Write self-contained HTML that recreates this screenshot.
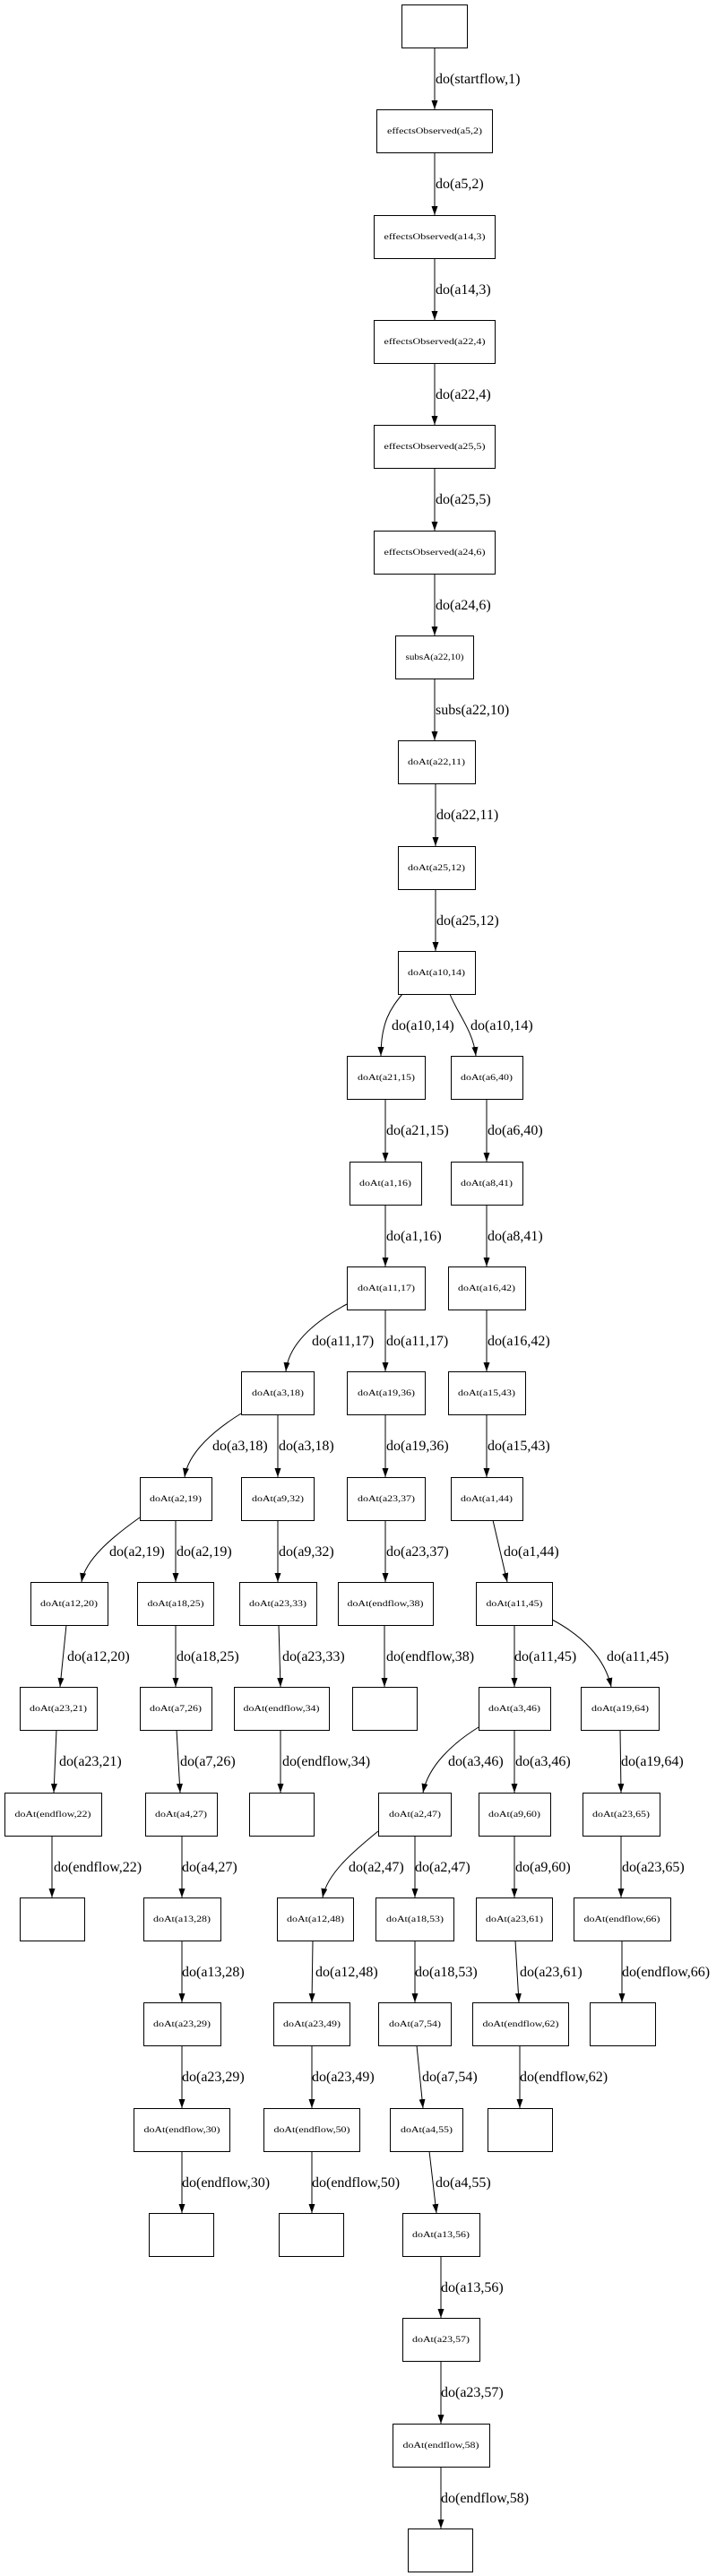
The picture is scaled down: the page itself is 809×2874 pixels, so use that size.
<!DOCTYPE html>
<html><head><meta charset="utf-8"><style>
html,body{margin:0;padding:0;background:#fff;}
svg{display:block;}
.n rect{fill:#fff;stroke:#000;stroke-width:1;}
.n text{font-family:"Liberation Serif",serif;font-size:9px;text-anchor:middle;}
.e path{fill:none;stroke:#000;stroke-width:1;}
.l text{font-family:"Liberation Serif",serif;font-size:16px;}
</style></head><body>
<svg width="809" height="2874" viewBox="0 0 809 2874" xmlns="http://www.w3.org/2000/svg">
<defs><marker id="a" markerUnits="userSpaceOnUse" markerWidth="11" markerHeight="8" refX="10" refY="3.5" orient="auto"><path d="M0,0 L10,3.5 L0,7 z" fill="#000"/></marker></defs>
<g class="e">
<path marker-end="url(#a)" d="M485,53 L485,122"/>
<path marker-end="url(#a)" d="M485,170 L485,240"/>
<path marker-end="url(#a)" d="M485,288 L485,357"/>
<path marker-end="url(#a)" d="M485,405 L485,474"/>
<path marker-end="url(#a)" d="M485,522 L485,592"/>
<path marker-end="url(#a)" d="M485,640 L485,709"/>
<path marker-end="url(#a)" d="M485,757 L485,826"/>
<path marker-end="url(#a)" d="M486,874 L486,944"/>
<path marker-end="url(#a)" d="M486,992 L486,1061"/>
<path marker-end="url(#a)" d="M449,1109 C436,1125 425,1140 425,1178"/>
<path marker-end="url(#a)" d="M502,1109 C510,1130 528,1150 531,1178"/>
<path marker-end="url(#a)" d="M430,1226 L430,1296"/>
<path marker-end="url(#a)" d="M543,1226 L543,1296"/>
<path marker-end="url(#a)" d="M430,1344 L430,1413"/>
<path marker-end="url(#a)" d="M543,1344 L543,1413"/>
<path marker-end="url(#a)" d="M387,1455 C350,1475 322,1500 319,1530"/>
<path marker-end="url(#a)" d="M430,1461 L430,1530"/>
<path marker-end="url(#a)" d="M543,1461 L543,1530"/>
<path marker-end="url(#a)" d="M269,1577 C240,1595 210,1620 206,1648"/>
<path marker-end="url(#a)" d="M310,1578 L310,1648"/>
<path marker-end="url(#a)" d="M430,1578 L430,1648"/>
<path marker-end="url(#a)" d="M543,1578 L543,1648"/>
<path marker-end="url(#a)" d="M156,1693 C125,1715 95,1740 91,1765"/>
<path marker-end="url(#a)" d="M196,1696 L196,1765"/>
<path marker-end="url(#a)" d="M310,1696 L310,1765"/>
<path marker-end="url(#a)" d="M430,1696 L430,1765"/>
<path marker-end="url(#a)" d="M550,1696 L566,1765"/>
<path marker-end="url(#a)" d="M74,1813 L67,1882"/>
<path marker-end="url(#a)" d="M196,1813 L196,1882"/>
<path marker-end="url(#a)" d="M311,1813 L313,1882"/>
<path marker-end="url(#a)" d="M429,1813 L429,1882"/>
<path marker-end="url(#a)" d="M574,1813 L574,1882"/>
<path marker-end="url(#a)" d="M616,1807 C650,1825 675,1850 682,1882"/>
<path marker-end="url(#a)" d="M63,1930 L60,2000"/>
<path marker-end="url(#a)" d="M197,1930 L201,2000"/>
<path marker-end="url(#a)" d="M313,1930 L313,2000"/>
<path marker-end="url(#a)" d="M534,1927 C505,1945 478,1970 472,2000"/>
<path marker-end="url(#a)" d="M574,1930 L574,2000"/>
<path marker-end="url(#a)" d="M692,1930 L693,2000"/>
<path marker-end="url(#a)" d="M58,2048 L58,2117"/>
<path marker-end="url(#a)" d="M203,2048 L203,2117"/>
<path marker-end="url(#a)" d="M422,2043 C395,2065 365,2090 360,2117"/>
<path marker-end="url(#a)" d="M463,2048 L463,2117"/>
<path marker-end="url(#a)" d="M574,2048 L574,2117"/>
<path marker-end="url(#a)" d="M693,2048 L693,2117"/>
<path marker-end="url(#a)" d="M203,2165 L203,2234"/>
<path marker-end="url(#a)" d="M349,2165 L348,2234"/>
<path marker-end="url(#a)" d="M463,2165 L463,2234"/>
<path marker-end="url(#a)" d="M575,2165 L579,2234"/>
<path marker-end="url(#a)" d="M694,2165 L694,2234"/>
<path marker-end="url(#a)" d="M203,2282 L203,2352"/>
<path marker-end="url(#a)" d="M348,2282 L348,2352"/>
<path marker-end="url(#a)" d="M465,2282 L472,2352"/>
<path marker-end="url(#a)" d="M580,2282 L580,2352"/>
<path marker-end="url(#a)" d="M203,2400 L203,2469"/>
<path marker-end="url(#a)" d="M348,2400 L348,2469"/>
<path marker-end="url(#a)" d="M479,2400 L487,2469"/>
<path marker-end="url(#a)" d="M492,2517 L492,2586"/>
<path marker-end="url(#a)" d="M492,2634 L492,2704"/>
<path marker-end="url(#a)" d="M492,2752 L492,2821"/>
</g>
<g class="l">
<text x="486" y="93">do(startflow,1)</text>
<text x="486" y="210">do(a5,2)</text>
<text x="486" y="328">do(a14,3)</text>
<text x="486" y="445">do(a22,4)</text>
<text x="486" y="562">do(a25,5)</text>
<text x="486" y="680">do(a24,6)</text>
<text x="486" y="797">subs(a22,10)</text>
<text x="487" y="914">do(a22,11)</text>
<text x="487" y="1032">do(a25,12)</text>
<text x="437" y="1149">do(a10,14)</text>
<text x="525" y="1149">do(a10,14)</text>
<text x="431" y="1266">do(a21,15)</text>
<text x="544" y="1266">do(a6,40)</text>
<text x="431" y="1384">do(a1,16)</text>
<text x="544" y="1384">do(a8,41)</text>
<text x="348" y="1501">do(a11,17)</text>
<text x="431" y="1501">do(a11,17)</text>
<text x="544" y="1501">do(a16,42)</text>
<text x="237" y="1618">do(a3,18)</text>
<text x="311" y="1618">do(a3,18)</text>
<text x="431" y="1618">do(a19,36)</text>
<text x="544" y="1618">do(a15,43)</text>
<text x="122" y="1736">do(a2,19)</text>
<text x="197" y="1736">do(a2,19)</text>
<text x="311" y="1736">do(a9,32)</text>
<text x="431" y="1736">do(a23,37)</text>
<text x="562" y="1736">do(a1,44)</text>
<text x="75" y="1853">do(a12,20)</text>
<text x="197" y="1853">do(a18,25)</text>
<text x="315" y="1853">do(a23,33)</text>
<text x="431" y="1853">do(endflow,38)</text>
<text x="574" y="1853">do(a11,45)</text>
<text x="677" y="1853">do(a11,45)</text>
<text x="66" y="1970">do(a23,21)</text>
<text x="201" y="1970">do(a7,26)</text>
<text x="315" y="1970">do(endflow,34)</text>
<text x="500" y="1970">do(a3,46)</text>
<text x="575" y="1970">do(a3,46)</text>
<text x="693" y="1970">do(a19,64)</text>
<text x="60" y="2088">do(endflow,22)</text>
<text x="203" y="2088">do(a4,27)</text>
<text x="389" y="2088">do(a2,47)</text>
<text x="463" y="2088">do(a2,47)</text>
<text x="575" y="2088">do(a9,60)</text>
<text x="694" y="2088">do(a23,65)</text>
<text x="203" y="2205">do(a13,28)</text>
<text x="352" y="2205">do(a12,48)</text>
<text x="463" y="2205">do(a18,53)</text>
<text x="580" y="2205">do(a23,61)</text>
<text x="694" y="2205">do(endflow,66)</text>
<text x="203" y="2322">do(a23,29)</text>
<text x="348" y="2322">do(a23,49)</text>
<text x="471" y="2322">do(a7,54)</text>
<text x="580" y="2322">do(endflow,62)</text>
<text x="203" y="2440">do(endflow,30)</text>
<text x="348" y="2440">do(endflow,50)</text>
<text x="486" y="2440">do(a4,55)</text>
<text x="492" y="2557">do(a13,56)</text>
<text x="492" y="2674">do(a23,57)</text>
<text x="492" y="2792">do(endflow,58)</text>
</g>
<g class="n">
<rect x="448.5" y="5.5" width="73" height="48"/>
<rect x="420.5" y="122.5" width="129" height="48"/><text x="485" y="149" textLength="106" lengthAdjust="spacingAndGlyphs">effectsObserved(a5,2)</text>
<rect x="417.5" y="240.5" width="135" height="48"/><text x="485" y="267" textLength="113" lengthAdjust="spacingAndGlyphs">effectsObserved(a14,3)</text>
<rect x="417.5" y="357.5" width="135" height="48"/><text x="485" y="384" textLength="113" lengthAdjust="spacingAndGlyphs">effectsObserved(a22,4)</text>
<rect x="417.5" y="474.5" width="135" height="48"/><text x="485" y="501" textLength="113" lengthAdjust="spacingAndGlyphs">effectsObserved(a25,5)</text>
<rect x="417.5" y="592.5" width="135" height="48"/><text x="485" y="619" textLength="113" lengthAdjust="spacingAndGlyphs">effectsObserved(a24,6)</text>
<rect x="441.5" y="709.5" width="87" height="48"/><text x="485" y="736" textLength="65" lengthAdjust="spacingAndGlyphs">subsA(a22,10)</text>
<rect x="444.5" y="826.5" width="86" height="48"/><text x="487" y="853" textLength="64" lengthAdjust="spacingAndGlyphs">doAt(a22,11)</text>
<rect x="444.5" y="944.5" width="86" height="48"/><text x="487" y="971" textLength="64" lengthAdjust="spacingAndGlyphs">doAt(a25,12)</text>
<rect x="444.5" y="1061.5" width="86" height="48"/><text x="487" y="1088" textLength="64" lengthAdjust="spacingAndGlyphs">doAt(a10,14)</text>
<rect x="387.5" y="1178.5" width="87" height="48"/><text x="431" y="1205" textLength="64" lengthAdjust="spacingAndGlyphs">doAt(a21,15)</text>
<rect x="503.5" y="1178.5" width="80" height="48"/><text x="543" y="1205" textLength="58" lengthAdjust="spacingAndGlyphs">doAt(a6,40)</text>
<rect x="390.5" y="1296.5" width="80" height="48"/><text x="430" y="1323" textLength="58" lengthAdjust="spacingAndGlyphs">doAt(a1,16)</text>
<rect x="503.5" y="1296.5" width="80" height="48"/><text x="543" y="1323" textLength="58" lengthAdjust="spacingAndGlyphs">doAt(a8,41)</text>
<rect x="387.5" y="1413.5" width="87" height="48"/><text x="431" y="1440" textLength="64" lengthAdjust="spacingAndGlyphs">doAt(a11,17)</text>
<rect x="500.5" y="1413.5" width="86" height="48"/><text x="543" y="1440" textLength="64" lengthAdjust="spacingAndGlyphs">doAt(a16,42)</text>
<rect x="269.5" y="1530.5" width="81" height="48"/><text x="310" y="1557" textLength="58" lengthAdjust="spacingAndGlyphs">doAt(a3,18)</text>
<rect x="387.5" y="1530.5" width="87" height="48"/><text x="431" y="1557" textLength="64" lengthAdjust="spacingAndGlyphs">doAt(a19,36)</text>
<rect x="500.5" y="1530.5" width="86" height="48"/><text x="543" y="1557" textLength="64" lengthAdjust="spacingAndGlyphs">doAt(a15,43)</text>
<rect x="156.5" y="1648.5" width="80" height="48"/><text x="196" y="1675" textLength="58" lengthAdjust="spacingAndGlyphs">doAt(a2,19)</text>
<rect x="269.5" y="1648.5" width="81" height="48"/><text x="310" y="1675" textLength="58" lengthAdjust="spacingAndGlyphs">doAt(a9,32)</text>
<rect x="387.5" y="1648.5" width="87" height="48"/><text x="431" y="1675" textLength="64" lengthAdjust="spacingAndGlyphs">doAt(a23,37)</text>
<rect x="503.5" y="1648.5" width="80" height="48"/><text x="543" y="1675" textLength="58" lengthAdjust="spacingAndGlyphs">doAt(a1,44)</text>
<rect x="34.5" y="1765.5" width="86" height="48"/><text x="77" y="1792" textLength="64" lengthAdjust="spacingAndGlyphs">doAt(a12,20)</text>
<rect x="153.5" y="1765.5" width="85" height="48"/><text x="196" y="1792" textLength="63" lengthAdjust="spacingAndGlyphs">doAt(a18,25)</text>
<rect x="267.5" y="1765.5" width="86" height="48"/><text x="310" y="1792" textLength="64" lengthAdjust="spacingAndGlyphs">doAt(a23,33)</text>
<rect x="377.5" y="1765.5" width="106" height="48"/><text x="430" y="1792" textLength="85" lengthAdjust="spacingAndGlyphs">doAt(endflow,38)</text>
<rect x="531.5" y="1765.5" width="85" height="48"/><text x="574" y="1792" textLength="63" lengthAdjust="spacingAndGlyphs">doAt(a11,45)</text>
<rect x="22.5" y="1882.5" width="86" height="48"/><text x="65" y="1909" textLength="64" lengthAdjust="spacingAndGlyphs">doAt(a23,21)</text>
<rect x="156.5" y="1882.5" width="80" height="48"/><text x="196" y="1909" textLength="58" lengthAdjust="spacingAndGlyphs">doAt(a7,26)</text>
<rect x="261.5" y="1882.5" width="106" height="48"/><text x="314" y="1909" textLength="85" lengthAdjust="spacingAndGlyphs">doAt(endflow,34)</text>
<rect x="393.5" y="1882.5" width="72" height="48"/>
<rect x="534.5" y="1882.5" width="80" height="48"/><text x="574" y="1909" textLength="58" lengthAdjust="spacingAndGlyphs">doAt(a3,46)</text>
<rect x="648.5" y="1882.5" width="87" height="48"/><text x="692" y="1909" textLength="64" lengthAdjust="spacingAndGlyphs">doAt(a19,64)</text>
<rect x="5.5" y="2000.5" width="108" height="48"/><text x="59" y="2027" textLength="85" lengthAdjust="spacingAndGlyphs">doAt(endflow,22)</text>
<rect x="162.5" y="2000.5" width="80" height="48"/><text x="202" y="2027" textLength="58" lengthAdjust="spacingAndGlyphs">doAt(a4,27)</text>
<rect x="278.5" y="2000.5" width="72" height="48"/>
<rect x="422.5" y="2000.5" width="81" height="48"/><text x="463" y="2027" textLength="58" lengthAdjust="spacingAndGlyphs">doAt(a2,47)</text>
<rect x="534.5" y="2000.5" width="80" height="48"/><text x="574" y="2027" textLength="58" lengthAdjust="spacingAndGlyphs">doAt(a9,60)</text>
<rect x="650.5" y="2000.5" width="86" height="48"/><text x="693" y="2027" textLength="64" lengthAdjust="spacingAndGlyphs">doAt(a23,65)</text>
<rect x="22.5" y="2117.5" width="72" height="48"/>
<rect x="160.5" y="2117.5" width="86" height="48"/><text x="203" y="2144" textLength="64" lengthAdjust="spacingAndGlyphs">doAt(a13,28)</text>
<rect x="309.5" y="2117.5" width="85" height="48"/><text x="352" y="2144" textLength="64" lengthAdjust="spacingAndGlyphs">doAt(a12,48)</text>
<rect x="419.5" y="2117.5" width="87" height="48"/><text x="463" y="2144" textLength="64" lengthAdjust="spacingAndGlyphs">doAt(a18,53)</text>
<rect x="531.5" y="2117.5" width="85" height="48"/><text x="574" y="2144" textLength="64" lengthAdjust="spacingAndGlyphs">doAt(a23,61)</text>
<rect x="640.5" y="2117.5" width="108" height="48"/><text x="694" y="2144" textLength="85" lengthAdjust="spacingAndGlyphs">doAt(endflow,66)</text>
<rect x="160.5" y="2234.5" width="86" height="48"/><text x="203" y="2261" textLength="64" lengthAdjust="spacingAndGlyphs">doAt(a23,29)</text>
<rect x="305.5" y="2234.5" width="85" height="48"/><text x="348" y="2261" textLength="64" lengthAdjust="spacingAndGlyphs">doAt(a23,49)</text>
<rect x="422.5" y="2234.5" width="81" height="48"/><text x="463" y="2261" textLength="58" lengthAdjust="spacingAndGlyphs">doAt(a7,54)</text>
<rect x="527.5" y="2234.5" width="107" height="48"/><text x="581" y="2261" textLength="85" lengthAdjust="spacingAndGlyphs">doAt(endflow,62)</text>
<rect x="658.5" y="2234.5" width="73" height="48"/>
<rect x="149.5" y="2352.5" width="107" height="48"/><text x="203" y="2379" textLength="85" lengthAdjust="spacingAndGlyphs">doAt(endflow,30)</text>
<rect x="294.5" y="2352.5" width="107" height="48"/><text x="348" y="2379" textLength="85" lengthAdjust="spacingAndGlyphs">doAt(endflow,50)</text>
<rect x="435.5" y="2352.5" width="81" height="48"/><text x="476" y="2379" textLength="58" lengthAdjust="spacingAndGlyphs">doAt(a4,55)</text>
<rect x="544.5" y="2352.5" width="72" height="48"/>
<rect x="166.5" y="2469.5" width="72" height="48"/>
<rect x="311.5" y="2469.5" width="72" height="48"/>
<rect x="449.5" y="2469.5" width="86" height="48"/><text x="492" y="2496" textLength="64" lengthAdjust="spacingAndGlyphs">doAt(a13,56)</text>
<rect x="449.5" y="2586.5" width="86" height="48"/><text x="492" y="2613" textLength="64" lengthAdjust="spacingAndGlyphs">doAt(a23,57)</text>
<rect x="438.5" y="2704.5" width="108" height="48"/><text x="492" y="2731" textLength="85" lengthAdjust="spacingAndGlyphs">doAt(endflow,58)</text>
<rect x="455.5" y="2821.5" width="72" height="48"/>
</g>
</svg>
</body></html>
